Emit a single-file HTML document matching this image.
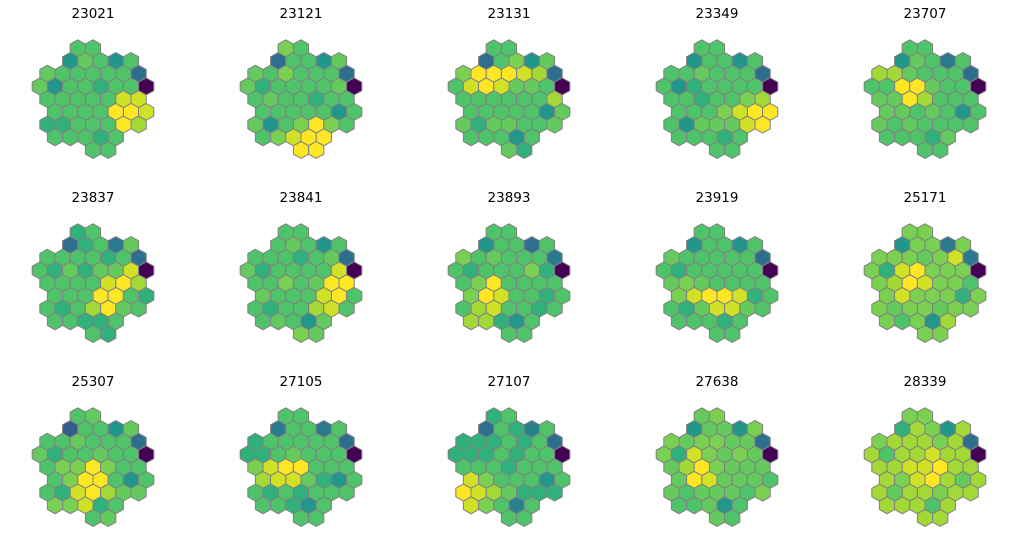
<!DOCTYPE html>
<html><head><meta charset="utf-8">
<style>
html,body{margin:0;padding:0;background:#fff;}
svg{display:block;}
text{font-family:"DejaVu Sans","Liberation Sans",sans-serif;}
</style></head>
<body>
<svg id="chart" width="1018" height="553" viewBox="0 0 1018 553"></svg>
<script>
const titles = ["23021","23121","23131","23349","23707","23837","23841","23893","23919","25171","25307","27105","27107","27638","28339"];
const p23021 = [4,4, 2,5,4,2,4, 5,4,4,4,4,4,1, 5,2,4,4,3,4,4,0, 4,4,4,4,4,8,8, 4,4,4,4,9,9,8, 3,3,4,4,4,9,7, 4,4,4,3,4, 4,4];
const p23121 = [6,4, 1,4,4,2,5, 5,4,6,4,4,4,1, 5,3,4,4,4,4,5,0, 4,5,4,4,3,4,4, 4,4,4,4,4,2,4, 5,2,4,6,9,6,4, 4,6,8,9,9, 9,9];
const p23131 = [4,4, 1,4,6,2,5, 6,9,9,9,8,7,1, 4,8,9,8,5,5,4,0, 4,4,4,4,4,4,7, 4,4,4,4,4,2,5, 5,3,5,5,4,4,5, 4,4,4,2,4, 5,3];
const p23349 = [4,4, 2,4,4,2,4, 4,4,5,4,4,4,1, 4,2,3,4,4,4,4,0, 4,4,3,4,4,6,7, 4,4,4,6,8,9,9, 4,2,5,5,5,8,9, 4,4,4,3,4, 4,4];
const p23707 = [4,4, 2,5,4,1.3,4, 7,7,5,4,4,4,1, 4,4,9,9,5,4,4,0, 5,5,9,7,4,4,4, 5,5,4,5,4,2,4, 5,4,5,4,4,4,4, 4,4,4,3,5, 4,4];
const p23837 = [3,4, 1,3,4,1.3,5, 4,4,4,4,3,4,1, 4,3,5,3,5,5,8,0, 4,4,4,4,8,9,7, 4,4,4,9,9,4,3, 4,3,4,7,9,5,4, 4,4,3,3,4, 4,3];
const p23841 = [4,4, 4,5,4,2,4, 4,4,4,3,4,5,1, 5,3,4,4,4,4,8,0, 4,4,6,4,5,9,9, 5,4,4,4,8,9,4, 4,3,4,4,7,8,4, 4,5,4,2,5, 6,5];
const p23893 = [4,4, 2,4,4,1,4, 6,4,5,4,4,4,1.3, 4,3,4,4,4,6,3,0, 4,6,9,4,4,4,4, 6,9,8,4,4,3,4, 4,7,8,4,4,3,4, 7,7,3,2,4, 4,4];
const p23919 = [4,4, 2,4,4,2,4, 5,4,4,4,4,4,1, 4,3,4,4,4,4,4,0, 5,6,5,4,4,4,4, 6,8,9,9,8,3,4, 4,3,5,8,8,5,4, 4,4,4,3,4, 4,4];
const p25171 = [6,6, 2,6,6,1.3,6, 6,6,6,5,6,8,1.3, 6,3,8,9,6,6,6,0, 6,7,9,8,6,6,4, 6,8,6,6,6,3,6, 6,5,6,6,5,6,6, 6,4,6,2,7, 6,6];
const p25307 = [4,5, 0.8,4,4,2,5, 4,4,5,4,4,4,1, 5,3,4,4,5,4,4,0, 4,6,6,9,6,4,4, 4,6,9,9,4,2,4, 4,3,8,9,7,5,5, 6,6,8,3,4, 4,5];
const p27105 = [4,4, 1.3,4,4,1.3,4, 3,4,4,4,4,4,1, 3,3,4,5,4,4,4,0, 6,8,9,9,4,4,4, 7,8,8,5,3,2,4, 4,3,4,3,4,4,4, 4,4,3,2,4, 4,4];
const p27107 = [3,4, 1,4,3,1.5,4, 3,3,3,4,3,4,1, 3,3,3,4,3,4,4,0, 4,4,4,3,4,4,4, 8,6,4,4,4,2,4, 9,8,7,5,3,3,3, 8,6,4,1.5,4, 4,4];
const p27638 = [5,6, 2,5,5,2,6, 6,5,6,6,5,5,1, 6,3,8,6,5,6,5,0, 5,7,9,6,5,5,5, 5,9,8,5,5,5,4, 5,4,5,5,5,4,6, 4,4,5,2,4, 5,4];
const p28339 = [6,6, 3,7,6,2,7, 6,7,7,7,6,7,1, 7,4,7,7,8,7,7,0, 7,7,8,8,9,7,7, 7,6,8,9,7,5,7, 7,5,7,7,6,7,7, 7,7,7,4,7, 7,7];
const panelValues = [p23021,p23121,p23131,p23349,p23707,p23837,p23841,p23893,p23919,p25171,p25307,p27105,p27107,p27638,p28339];

const ROW_KS = [[5,7],[4,6,8,10,12],[1,3,5,7,9,11,13],[0,2,4,6,8,10,12,14],[1,3,5,7,9,11,13],[2,4,6,8,10,12,14],[1,3,5,7,9,11,13],[2,4,6,8,10],[7,9]];
const LEVEL_T = [0,0.36,0.52,0.64,0.72,0.76,0.80,0.86,0.93,1.0];
const VIR = ["#440154","#482475","#414487","#355f8d","#2a788e","#21918c","#22a884","#44bf70","#7ad151","#bddf26","#fde725"];
function hex2rgb(h){return [parseInt(h.substr(1,2),16),parseInt(h.substr(3,2),16),parseInt(h.substr(5,2),16)];}
function viridis(t){
  t=Math.max(0,Math.min(1,t));const f=t*10;const i=Math.min(9,Math.floor(f));const u=f-i;
  const a=hex2rgb(VIR[i]),b=hex2rgb(VIR[i+1]);
  return "rgb("+a.map((v,j)=>Math.round(v+(b[j]-v)*u)).join(",")+")";
}
function levelToT(v){const i=Math.min(8,Math.floor(v));const u=v-i;return LEVEL_T[i]+(LEVEL_T[i+1]-LEVEL_T[i])*u;}

const svg=document.getElementById('chart');
const NS="http://www.w3.org/2000/svg";
const DX=7.6, DY=12.71, HY=8.47;
function xPos(panelX,k){return panelX-53.2+k*DX;}
function yPos(panelY,r){return panelY+r*DY;}

panelValues.forEach((vals,p)=>{
  const col=p%5,row=Math.floor(p/5);
  const cx=93+208*col, ty=13+184*row, y0=48.3+184*row;
  const g=document.createElementNS(NS,'g');
  
  
  svg.appendChild(g);
  const t=document.createElementNS(NS,'text');
  t.setAttribute('x',cx);t.setAttribute('y',ty+5);t.setAttribute('text-anchor','middle');
  t.setAttribute('font-size','13.5');t.setAttribute('fill','#000');
  t.textContent=titles[p];
  
  
  g.appendChild(t);
  let idx=0;
  ROW_KS.forEach((ks,r)=>{
    ks.forEach(k=>{
      const x=xPos(cx,k), y=yPos(y0,r), v=vals[idx++];
      const pts=[[x,y-HY],[x+DX,y-HY/2],[x+DX,y+HY/2],[x,y+HY],[x-DX,y+HY/2],[x-DX,y-HY/2]];
      const poly=document.createElementNS(NS,'polygon');
      poly.setAttribute('points',pts.map(q=>q[0].toFixed(2)+","+q[1].toFixed(2)).join(" "));
      poly.setAttribute('fill',viridis(levelToT(v)));
      poly.setAttribute('stroke','#808080');
      poly.setAttribute('stroke-width','1');
      
      
      g.appendChild(poly);
    });
  });
});
</script>
</body></html>
